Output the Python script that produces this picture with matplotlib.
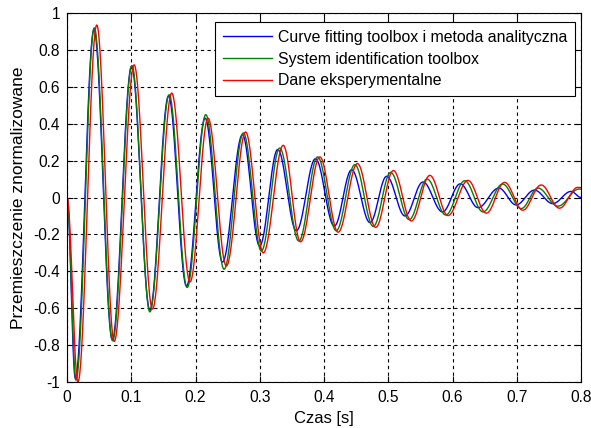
import numpy as np
import matplotlib
matplotlib.use("Agg")
import matplotlib.pyplot as plt

# Turning points (time [s], normalised displacement) of each response
t_fit = [0.0, 0.013, 0.042, 0.0705, 0.1005, 0.129, 0.158, 0.186, 0.215, 0.242,
         0.273, 0.2998, 0.328, 0.357, 0.3867, 0.416, 0.443, 0.4716, 0.4975, 0.526,
         0.554, 0.5844, 0.612, 0.6397, 0.672, 0.699, 0.7275, 0.756, 0.7845, 0.8]
y_fit = [0.0, -0.98, 0.91, -0.77, 0.71, -0.61, 0.55, -0.48, 0.43, -0.35,
         0.34, -0.263, 0.26, -0.18, 0.21, -0.155, 0.15, -0.136, 0.115, -0.1,
         0.084, -0.078, 0.074, -0.055, 0.051, -0.04, 0.04, -0.033, 0.033, 0.0]

t_sysid = [0.0, 0.014, 0.0425, 0.071, 0.101, 0.129, 0.159, 0.187, 0.216, 0.2445,
           0.2745, 0.3025, 0.331, 0.3608, 0.390, 0.419, 0.448, 0.4767, 0.5037, 0.5326,
           0.5605, 0.5895, 0.619, 0.6475, 0.678, 0.707, 0.733, 0.764, 0.797, 0.8]
y_sysid = [0.0, -0.99, 0.92, -0.777, 0.715, -0.62, 0.557, -0.488, 0.449, -0.389,
           0.35, -0.29, 0.268, -0.236, 0.22, -0.18, 0.178, -0.157, 0.136, -0.12,
           0.10, -0.095, 0.091, -0.078, 0.073, -0.06, 0.051, -0.047, 0.046, 0.045]

t_exp = [0.0, 0.017, 0.0463, 0.0735, 0.1045, 0.133, 0.163, 0.1915, 0.2195, 0.248,
         0.278, 0.3055, 0.3365, 0.3635, 0.3935, 0.422, 0.452, 0.4805, 0.508, 0.536,
         0.5647, 0.593, 0.624, 0.6527, 0.681, 0.7095, 0.738, 0.7665, 0.795, 0.8]
y_exp = [0.0, -1.0, 0.935, -0.78, 0.719, -0.605, 0.566, -0.458, 0.43, -0.371,
         0.355, -0.30, 0.283, -0.24, 0.22, -0.188, 0.184, -0.162, 0.146, -0.127,
         0.12, -0.098, 0.093, -0.085, 0.082, -0.069, 0.068, -0.058, 0.055, 0.053]

series_labels = ["Curve fitting toolbox i metoda analityczna",
                 "System identification toolbox",
                 "Dane eksperymentalne"]
series_colors = ["#0000ff", "#008000", "#ff0000"]

x_ticks = [0, 0.1, 0.2, 0.3, 0.4, 0.5, 0.6, 0.7, 0.8]
x_tick_labels = ["0", "0.1", "0.2", "0.3", "0.4", "0.5", "0.6", "0.7", "0.8"]
y_ticks = [-1, -0.8, -0.6, -0.4, -0.2, 0, 0.2, 0.4, 0.6, 0.8, 1]
y_tick_labels = ["-1", "-0.8", "-0.6", "-0.4", "-0.2", "0", "0.2", "0.4", "0.6", "0.8", "1"]


def swing(tp, yp, n=40):
    """Smooth half-wave shape between consecutive turning points."""
    ts, ys = [], []
    for i in range(len(tp) - 1):
        s = np.linspace(0, 1, n, endpoint=False)
        ts.append(tp[i] + (tp[i + 1] - tp[i]) * s)
        ys.append(yp[i] + (yp[i + 1] - yp[i]) * (1 - np.cos(np.pi * s)) / 2)
    ts.append([tp[-1]])
    ys.append([yp[-1]])
    return np.concatenate(ts), np.concatenate(ys)


plt.rcParams["font.family"] = ["Liberation Sans", "DejaVu Sans"]

fig = plt.figure(figsize=(5.91, 4.28), dpi=100)
ax = fig.add_axes([67 / 591, 1 - 382 / 428, (581 - 67) / 591, (382 - 13) / 428])

for (tp, yp), lab, col in zip([(t_fit, y_fit), (t_sysid, y_sysid), (t_exp, y_exp)],
                              series_labels, series_colors):
    tt, yy = swing(tp, yp)
    ax.plot(tt, yy, color=col, lw=1.0, label=lab)

ax.set_xlim(0, 0.8)
ax.set_ylim(-1, 1)
ax.set_xticks(x_ticks)
ax.set_xticklabels(x_tick_labels)
ax.set_yticks(y_ticks)
ax.set_yticklabels(y_tick_labels)
ax.tick_params(direction="in", length=4, width=0.8, top=True, right=True,
               labelsize=11.2, colors="k")
ax.tick_params(axis="x", pad=5.5)
ax.tick_params(axis="y", pad=5)
for sp in ax.spines.values():
    sp.set_linewidth(0.8)
    sp.set_color("k")
ax.grid(True, color="k", linestyle=(0, (3, 3)), linewidth=0.8)

ax.set_xlabel("Czas [s]", fontsize=12, labelpad=4.5)
ax.set_ylabel("Przemieszczenie znormalizowane", fontsize=12.5, labelpad=5)

leg = ax.legend(loc="upper right", bbox_to_anchor=(0.988, 0.9756), fontsize=11.4,
                fancybox=False, framealpha=1, edgecolor="k", borderpad=0.5,
                handlelength=3.15, handletextpad=0.32, labelspacing=0.42,
                borderaxespad=0.0)
leg.get_frame().set_linewidth(0.8)

fig.savefig("out.png", dpi=100)
